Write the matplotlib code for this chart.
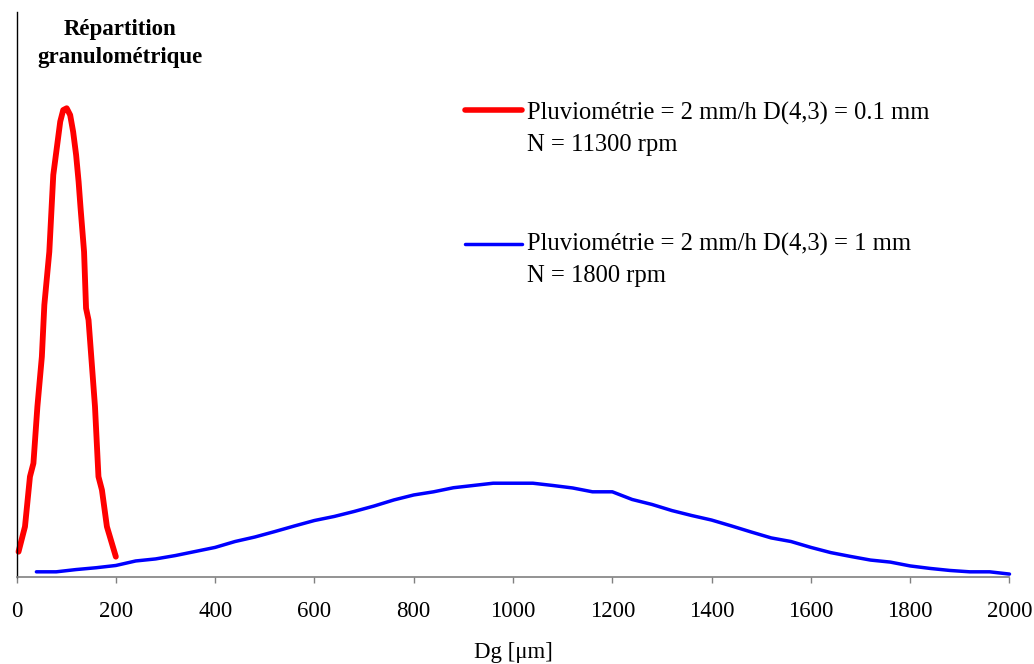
import numpy as np
import matplotlib
matplotlib.use("Agg")
import matplotlib.pyplot as plt

plt.rcParams['font.family'] = ['Liberation Serif', 'DejaVu Serif']

# Distribution for D(4,3) = 0.1 mm, N = 11300 rpm
dg_fine = [4, 17, 27, 34, 42, 51, 56, 66, 74, 81, 88, 94, 101, 108, 114, 120,
           125, 129, 136, 140, 145, 152, 158, 165, 172, 182, 200]
freq_fine = [1.12, 2.23, 4.44, 5.03, 7.54, 9.75, 12.04, 14.39, 17.79, 18.97,
             20.15, 20.66, 20.74, 20.44, 19.70, 18.67, 17.49, 16.31, 14.39,
             11.89, 11.37, 9.31, 7.54, 4.44, 3.85, 2.23, 0.90]

# Distribution for D(4,3) = 1 mm, N = 1800 rpm
dg_coarse = list(range(40, 2001, 40))
freq_coarse = [0.23, 0.23, 0.33, 0.41, 0.51, 0.71, 0.80, 0.95, 1.13, 1.31,
               1.57, 1.77, 2.01, 2.26, 2.50, 2.68, 2.90, 3.14, 3.41, 3.63,
               3.77, 3.95, 4.05, 4.15, 4.15, 4.15, 4.05, 3.94, 3.77, 3.77,
               3.43, 3.21, 2.94, 2.72, 2.52, 2.26, 1.99, 1.73, 1.57, 1.31,
               1.08, 0.91, 0.75, 0.66, 0.49, 0.38, 0.29, 0.23, 0.23, 0.13]

label_fine = "Pluviométrie = 2 mm/h D(4,3) = 0.1 mm\nN = 11300 rpm"
label_coarse = "Pluviométrie = 2 mm/h D(4,3) = 1 mm\nN = 1800 rpm"
xticks = list(range(0, 2001, 200))

fig = plt.figure(figsize=(10.34, 6.64), dpi=100)
ax = fig.add_axes([0.016, 0.131, 0.9603, 0.851])

ax.plot(dg_fine, freq_fine, color='#ff0000', lw=4.2,
        solid_capstyle='round', solid_joinstyle='round', clip_on=False)
ax.plot(dg_coarse, freq_coarse, color='#0000ff', lw=2.5,
        solid_capstyle='round', solid_joinstyle='round', clip_on=False)

ax.set_xlim(0, 2000)
ax.set_ylim(0, 25)
ax.set_xticks(xticks)
ax.set_xticklabels([str(t) for t in xticks], fontsize=16.5)
ax.set_yticks([])
ax.tick_params(axis='x', direction='out', length=4, width=1, color='#808080', pad=13)

ax.spines['top'].set_visible(False)
ax.spines['right'].set_visible(False)
ax.spines['left'].set_color('black')
ax.spines['left'].set_linewidth(1)
ax.spines['bottom'].set_color('#808080')
ax.spines['bottom'].set_linewidth(1.2)

ax.set_xlabel("Dg [μm]", fontsize=16.5, labelpad=15)

fig.text(0.116, 0.956, "Répartition", ha='center', va='center',
         fontsize=16.5, fontweight='bold')
fig.text(0.116, 0.914, "granulométrique", ha='center', va='center',
         fontsize=16.5, fontweight='bold')

# legend: short line sample, then two text lines per series
entries = [(label_fine, '#ff0000', 4.0, 0.8265, (0.8103, 0.7536)),
           (label_coarse, '#0000ff', 2.5, 0.5888, (0.5784, 0.5227))]
for label, color, lw, y_line, y_text in entries:
    ax.plot([0.4517, 0.509], [y_line, y_line], color=color, lw=lw,
            transform=ax.transAxes, clip_on=False, solid_capstyle='round')
    for txt, yt in zip(label.split('\n'), y_text):
        ax.text(0.5142, yt, txt, transform=ax.transAxes, fontsize=17.7,
                ha='left', va='baseline')

fig.savefig("out.png", dpi=100)
